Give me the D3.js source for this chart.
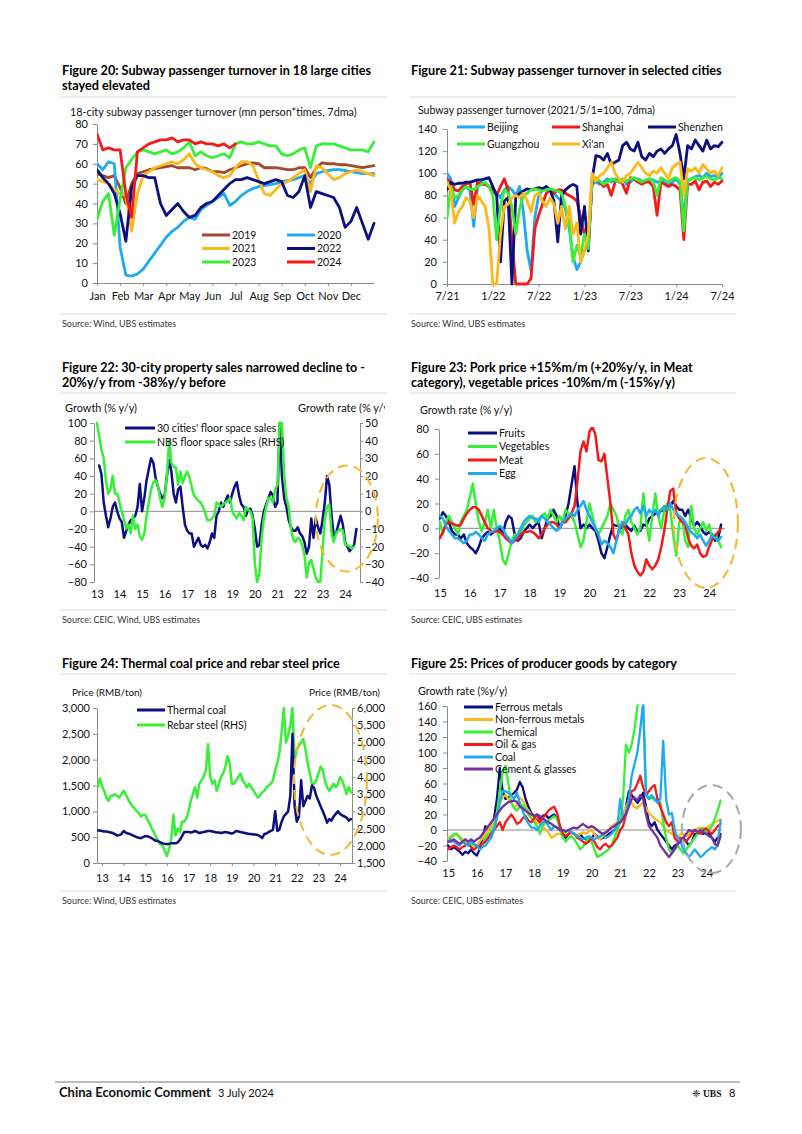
<!DOCTYPE html>
<html>
<head>
<meta charset="utf-8">
<script src="https://cdn.jsdelivr.net/npm/d3@7"></script>
<style>
  body { margin: 0; background: #fff; }
  svg text { font-family: Lato, "Noto Sans", sans-serif; fill: #111; }
  .title { font-size: 12.6px; font-weight: 700; fill: #000; }
  .sub { font-size: 10.4px; }
  .src { font-size: 8.9px; fill: #333; }
  .leg { font-size: 10.5px; }
  .axis text { font-size: 11px; font-family: Lato, "Noto Sans", sans-serif; fill: #111; }
  .axis path, .axis line { stroke: #8c8c8c; }
  .sep { stroke: #dcdcdc; stroke-width: 1; }
  .zero { stroke: #8c8c8c; stroke-width: 1; }
</style>
</head>
<body>
<svg id="page" width="802" height="1134"></svg>
<script>
// ---------- data ----------
// Figure 20: 18-city subway turnover, one value every quarter month (Jan = 0)
var monthLabels = ["Jan","Feb","Mar","Apr","May","Jun","Jul","Aug","Sep","Oct","Nov","Dec"];
var sub2019 = [55,54,53,54,48,40,50,55,56,57,57.5,58,58.5,59,58,58,58,57,58,57.5,56,56,55.5,57,58,59,60,60.5,60,58,58,58,57.5,57,57,58,58,53,58,60.5,60,60,59.5,59.5,59,58.5,58,58.5,59];
var sub2020 = [60,57,61,60,18,4,3.5,4.5,7,11,15,19,23,26,28,31,33,32,37,39,41,43,45,39,41,44,46,47.5,48.5,49,49.5,50,51,51.5,52,53,54,50,55,56,56.5,57,57,56.5,56,55.5,55,55,55];
var sub2021 = [52,51,50,47,45,44,26,45,54,56,58,59,60,61,60,62,65,60,58,57,56,54,53,54,58,61,61,59,52,45,44,47,50,51,53,55,57,46,59,58,55,52,53,55,56,57,56,55,54];
var sub2022 = [57,53,50,45,35,21,48,54,54,53,53,40,34,37,40,36,33,34,38,40,41,44,47,50,52,52,53,52,51,50,51,52,51,44,43,46,54,38,46,45,44,43,38,28,31,38,30,22,30];
var sub2023 = [32,41,45,24,42,58,62,66,67,66,65,66,67,65,66,68,71,64,66,64,63,64,65,63,70,71,70,70,71,70,69,69,65,64,65,67,68,58,69,70,70,70,69,68,67,67,67,66,71];
var sub2024 = [75,67,68,67,67,45,33,66,68,70,71,72,72,73,71,72,72,70,71,70,70,69,70,68,70];

// Figure 21: city subway index (2021/5/1=100), every half month from Jul 2021
var cityTicks = ["7/21","1/22","7/22","1/23","7/23","1/24","7/24"];
var beijing = [100,95,70,78,85,88,85,52,88,92,90,88, 85,82,78,85,88,85,80,88,65,30,12,60, 80,85,88,85,82,78,75,68,50,25,13,20,
  30,40,90,92,90,92,95,92,95,92,95,90, 92,95,95,93,92,95,94,92,93,92,90,92, 95,90,60,93,95,97,98,96,100,97,98,96, 100];
var shanghai = [95,92,85,84,88,90,92,72,92,90,90,88, 85,80,88,95,85,40,0,0,0,0,5,50, 62,72,82,85,82,85,85,82,80,78,75,60,
  45,35,95,95,92,88,90,80,92,95,90,82, 96,95,92,90,92,92,88,62,92,90,88,90, 88,85,40,90,90,93,85,92,93,88,92,90, 93];
var shenzhen = [85,92,90,91,91,92,92,93,94,94,95,96, 88,80,20,75,78,0,78,82,84,86,85,86, 87,86,88,85,75,38,80,85,88,90,88,45,
  70,30,95,116,115,112,118,108,110,112,125,128, 122,120,128,115,112,118,115,120,122,118,122,125, 135,118,95,125,122,130,125,120,130,122,125,124, 128];
var guangzhou = [60,88,78,80,85,88,86,85,88,90,92,88, 80,40,70,85,82,70,45,68,80,82,85,86, 85,84,85,86,85,84,82,70,55,20,35,25,
  45,32,95,96,93,90,92,95,94,92,95,93, 95,96,94,92,94,95,93,80,96,94,92,95, 96,93,48,94,95,96,94,96,97,95,94,96, 95];
var xian = [92,85,55,65,70,78,75,60,80,75,70,50, 0,0,45,70,72,78,80,78,82,75,65,80, 82,75,70,78,72,55,70,50,70,45,55,20,
  30,45,100,93,98,100,105,110,100,95,92,98, 100,105,110,105,100,98,102,100,105,100,95,105, 108,110,80,104,102,105,100,108,104,100,102,98, 105];

// Figure 22: property sales growth, every 0.1 year
var yearTicks13 = [13,14,15,16,17,18,19,20,21,22,23,24];
var cities30 = [52,42,10,-5,-18,-8,5,10,0,
  -8,-12,-30,-22,-15,-10,-8,-5,5,31,
  0,15,35,48,60,55,38,28,20,15,
  18,40,58,45,20,10,25,28,5,-15,
  -22,-25,-25,-40,-35,-30,-38,-40,-38,-42,
  -35,-25,-30,-5,0,10,5,12,18,10,
  20,28,33,18,8,5,-5,2,3,-5,
  -20,-40,-38,-15,0,8,15,22,18,5,
  10,100,40,15,5,-10,-18,-22,-22,-18,
  -25,-28,-35,-48,-40,-8,-30,-8,-18,-25,
  -10,10,40,30,-5,-28,-25,-15,-5,-15,
  -35,-40,-45,-42,-38,-20];            // from 2013.1
var nbsSales = [50,42.5,35,30,17.5,10,12.5,20,10,10,
  5,0,-5,-10,-7.5,-12.5,-2.5,-10,-7.5,-14,
  -16,-12.5,-2.5,5,12.5,16.5,17.5,15,7.5,2.5,
  7.5,20,40,27.5,25,25,15,22.5,16,20,
  22.5,19,14,9,7.5,6,5,2.5,-1,-5,
  -5,-4,-2.5,5,4,2.5,4,5,6,7.5,
  0,-2.5,-4,-1,-2.5,-5,2.5,1,0,-4,
  -30,-40,-35,-15,-4,2.5,7.5,7.5,5,12.5,
  15,50,50,20,7.5,2.5,-10,-16,-17.5,-15,
  -16,-19,-25,-37.5,-29,-27.5,-32.5,-37.5,-40,-40,
  -22.5,-4,2.5,4,-12.5,-17.5,-12.5,-11,-10,-11,
  -19,-19,-20,-21,-20];                 // from 2013.0, RHS

// Figure 23: food prices, every 0.1 year from 2015.0
var yearTicks15 = [15,16,17,18,19,20,21,22,23,24];
var fruits = [8,13,10,5,-2,-5,-5,-8,-5,-12, -15,-17,-20,-15,-8,-5,-3,-5,-3,-2, 0,-5,5,10,8,-5,-10,-8,-3,0,
  3,0,3,5,-8,0,8,10,15,10, 0,5,10,20,35,50,20,0,3,0, 3,0,-2,-10,-20,-24,-15,-5,3,2,
  2,0,3,0,-2,2,-3,-2,3,2, 8,10,12,12,15,14,15,18,22,18, 15,15,10,15,8,2,5,2,-3,-5, -3,-5,-10,-8,3];
var vegetables = [5,-5,5,10,5,0,-5,5,10,15, 25,36,20,5,-2,5,15,0,15,0, -10,-25,-29,-20,-10,-5,-8,-3,2,5,
  8,10,5,8,10,12,8,15,10,5, 10,5,15,12,10,5,-5,-15,-10,5, 20,10,0,-5,0,5,10,20,15,10,
  0,-5,10,15,5,0,-5,0,28,5, -10,10,28,10,0,15,20,15,-5,-22, 5,8,-10,-15,18,0,-5,0,5,-2, 3,-8,-5,-10,-15];
var meat = [-8,-3,3,5,4,3,2,3,8,12, 15,17,17,15,10,5,0,-2,-3,-2, -3,-5,-8,-10,-12,-10,-8,-5,-3,-3,
  -2,-3,-5,-8,-5,0,3,5,5,3, 0,5,5,8,12,18,38,62,70,62, 78,82,75,55,54,60,40,20,-5,-10,
  0,5,0,-5,-20,-30,-35,-38,-35,-25, -30,-33,-30,-25,-15,-2,15,30,32,12, 8,5,3,-8,-14,-16,-13,-20,-23,-22, -15,-9,-6,-3,0];
var egg = [10,8,2,-2,-5,-8,-8,-10,-12,-10, -5,-5,-3,-5,-8,-10,-5,-3,-2,0, 2,0,-5,-8,-12,-8,-5,0,5,8,
  10,8,8,5,10,8,5,3,0,-2, 0,5,8,10,12,10,15,18,22,15, 10,5,0,-5,-13,-10,-12,-15,-20,-10,
  0,5,3,8,10,15,17,12,18,10, 15,12,15,10,15,18,15,20,15,12, 10,8,5,0,-3,-5,-8,-5,-10,-14, -10,-5,-8,-10,-7];

// Figure 24: prices (RMB/ton), every 0.1 year from 2012.8
var thermalCoal = [630,630,
  620,610,610,600,590,580,560,530,540,560, 620,590,570,560,540,520,500,490,480,500,
  520,520,500,480,450,430,420,400,380,370, 370,370,380,380,380,400,450,520,600,600,
  600,590,600,620,600,580,590,600,610,620, 620,610,600,590,590,580,590,600,590,580,
  570,590,620,610,600,590,580,570,560,560, 550,550,540,520,480,560,570,600,620,640,
  1000,620,650,800,900,950,1000,1300,2500,1100, 800,900,1600,1100,1200,1300,1250,1500,1450,1300,
  1200,1100,1000,900,780,850,820,900,950,1000, 950,920,900,880,820,850];
var rebarSteel = [3700,3950,
  3750,3600,3400,3300,3450,3450,3500,3450,3400,3500, 3600,3500,3350,3250,3150,3100,3000,2950,2850,2900,
  2900,2750,2650,2500,2400,2250,2150,2050,2000,1850, 1700,1900,2200,2900,2300,2500,2400,2700,2700,2800,
  3000,3300,3500,3700,3400,3800,3900,4000,4200,4950, 4000,3800,3900,3600,3800,4000,4100,4300,4600,4400,
  3800,3800,3900,4000,4100,3900,3800,3700,3800,3700, 3600,3500,3400,3450,3550,3600,3700,3750,3800,3900,
  4200,4400,4700,5300,6000,5000,5200,5500,6000,4500, 4800,4900,5000,5100,4800,4400,4100,3800,3800,3900,
  4100,4300,4200,3900,3700,3600,3700,3800,3700,3800, 4000,3900,3700,3500,3700,3550];   // RHS

// Figure 25: producer goods prices, every 0.1 year from 2015.0
var ferrous = [-20,-25,-22,-25,-28,-32,-28,-30,-25,-30, -33,-25,-10,5,0,5,15,40,80,50, 40,42,45,48,52,62,55,40,30,22,
  18,10,15,18,20,15,18,20,15,5, -5,-10,-5,-3,-5,-8,-5,-10,-12,-15, -12,-5,-8,-12,-10,-8,-5,-3,0,5,
  10,15,30,50,45,40,35,40,48,30, 10,5,10,0,-5,-10,-15,-20,-25,-20, -18,-15,-10,-15,-20,-15,-5,-5,-3,-5, -3,-5,-10,-15,-10,-5];
var nonFerrous = [-10,-8,-8,-5,-8,-12,-15,-18,-20,-18, -20,-15,-10,-5,0,5,12,22,35,42, 45,40,35,30,32,42,38,30,25,20,
  15,10,8,5,0,-3,-10,-8,-5,-5, -5,-3,0,-2,-5,-8,-5,-3,-5,-2, 0,-5,-10,-12,-8,-5,0,5,8,10,
  15,20,30,38,35,30,28,32,35,28, 22,18,15,12,10,5,0,-3,-5,-8, -10,-5,-5,-8,-5,-3,0,2,3,0, 2,5,8,10,12,14];
var chemical = [-15,-10,-5,-5,-10,-15,-18,-20,-18,-20, -22,-20,-18,-10,-5,-2,5,20,50,75, 83,60,35,28,25,30,32,28,20,15,
  10,5,-5,5,10,12,15,18,15,0, -10,-15,-10,-8,-12,-18,-25,-22,-15,-10, -15,-25,-35,-33,-30,-28,-25,-20,-10,0,
  10,40,110,100,110,130,160,165,165,50, 40,42,38,40,35,10,-10,-25,-30,-25, -20,-25,-30,-25,-20,-15,-10,-5,0,3, -3,0,5,15,25,38];
var oilGas = [-25,-22,-20,-22,-25,-22,-20,-18,-22,-25, -22,-20,-18,-15,-10,-5,0,5,10,0, 10,15,20,15,8,10,15,18,12,10,
  15,20,10,15,20,25,28,30,22,5, -5,-8,-5,-3,-5,-10,-12,-15,-18,-15, -10,-15,-22,-25,-20,-18,-22,-20,-15,-10,
  0,5,20,35,50,52,60,70,55,45, 50,55,58,40,30,20,10,5,10,-10, -15,-10,-12,-15,-10,-5,0,-2,-5,0, 2,-2,-5,0,5,8];
var coalPpi = [-15,-12,-15,-18,-20,-15,-18,-20,-15,-18, -20,-25,-22,-20,-15,-10,0,15,35,50, 50,48,45,40,48,35,25,15,8,3,
  3,0,5,10,12,5,0,5,3,0, 0,-2,0,-3,-5,-8,-10,-12,-10,-8, -10,-12,-10,-8,-5,-10,-8,-5,0,5,
  40,15,20,40,70,85,100,130,165,45, 40,45,40,35,40,115,40,20,22,0, -10,-15,-25,-30,-35,-30,-25,-30,-35,-32, -28,-25,-22,-25,-20,12];
var cement = [-15,-15,-12,-15,-18,-15,-12,-15,-12,-15, -12,-10,-5,0,5,10,15,20,25,30, 33,36,37,38,36,30,28,25,22,20,
  18,20,18,15,12,10,8,5,3,0, 0,-2,0,2,3,2,5,8,5,3, 5,3,0,-3,-5,-3,0,3,5,8,
  10,15,20,30,40,42,38,45,40,20, 5,0,-5,-10,-20,-25,-30,-35,-30,-25, -18,-15,-10,-5,0,-2,0,-3,0,-3, -5,-8,-10,-18,-20,-8];

// dashed rings: [x from, x to, y top, y bottom] in data units
var ring22 = [2022.7, 2025.45, 52, -68];
var ring23 = [2022.82, 2024.96, 56.6, -48];
var ring24 = [2021.87, 2025.24, 3058, 155];
var ring25 = [2023.15, 2025.21, 58, -55.5];

// ---------- setup ----------
var navy = "#0b0f80", sky = "#1eaaf0", lime = "#38ef38", red = "#f41a1a",
    amber = "#ffb81c", brown = "#9e4b2e", purple = "#7232a2", ringAmber = "#f5b62a", ringGrey = "#a8a8a8";

var svg = d3.select("#page");
svg.append("rect").attr("width", 802).attr("height", 1134).attr("fill", "#fff");

var clipCount = 0;
function clip(x, y, w, h) {
  var id = "clip" + (clipCount++);
  svg.append("clipPath").attr("id", id)
    .append("rect").attr("x", x).attr("y", y).attr("width", w).attr("height", h);
  return "url(#" + id + ")";
}

// scale a text's font so it spans the width measured on the original page
function fitSize(sel, width) {
  var node = sel.node();
  var fs = parseFloat(getComputedStyle(node).fontSize);
  return fs * width / node.getComputedTextLength();
}
function fit(sel, width) {
  sel.style("font-size", fitSize(sel, width) + "px");
  return sel;
}

function seq(start, step, vals) {
  return vals.map(function(v, i) { return [start + i * step, v]; });
}

function header(x, lines, y, sepY, width) {
  var rows = lines.map(function(t, i) {
    return svg.append("text").attr("class", "title").attr("x", x).attr("y", y + i * 15).text(t);
  });
  var fs = fitSize(rows[0], width);
  rows.forEach(function(r) { r.style("font-size", fs + "px"); });
  svg.append("line").attr("class", "sep")
    .attr("x1", x - 2).attr("x2", x + 325).attr("y1", sepY).attr("y2", sepY);
}

function source(x, t, sepY, width) {
  svg.append("line").attr("class", "sep")
    .attr("x1", x - 2).attr("x2", x + 325).attr("y1", sepY).attr("y2", sepY);
  fit(svg.append("text").attr("class", "src").attr("x", x).attr("y", sepY + 13).text(t), width);
}

function subtitle(g, x, y, t, width) {
  return fit(g.append("text").attr("class", "sub").attr("x", x).attr("y", y).text(t), width);
}

function plotLine(g, data, xs, ys, color, w) {
  g.append("path").datum(data)
    .attr("fill", "none").attr("stroke", color).attr("stroke-width", w)
    .attr("stroke-linejoin", "round").attr("stroke-linecap", "round")
    .attr("d", d3.line().x(function(d) { return xs(d[0]); }).y(function(d) { return ys(d[1]); }));
}

function legendItem(g, label, color, x, y, len) {
  g.append("line").attr("x1", x).attr("x2", x + len).attr("y1", y).attr("y2", y)
    .attr("stroke", color).attr("stroke-width", 3);
  g.append("text").attr("class", "leg").attr("x", x + len + 2).attr("y", y).attr("dy", "0.35em").text(label);
}

function ring(g, r, xs, ys, color) {
  var x0 = xs(r[0]), x1 = xs(r[1]), y0 = ys(r[2]), y1 = ys(r[3]);
  g.append("ellipse")
    .attr("cx", (x0 + x1) / 2).attr("cy", (y0 + y1) / 2)
    .attr("rx", (x1 - x0) / 2).attr("ry", (y1 - y0) / 2)
    .attr("fill", "none").attr("stroke", color).attr("stroke-width", 2)
    .attr("stroke-dasharray", "10,6");
}

function noDomain(sel) { sel.select(".domain").remove(); }

// ---------- Figure 20 ----------
header(62, ["Figure 20: Subway passenger turnover in 18 large cities", "stayed elevated"], 75, 97, 309);
subtitle(svg, 70, 115.5, "18-city subway passenger turnover (mn person*times, 7dma)", 287);

var x20 = d3.scaleLinear().domain([0, 12]).range([97, 374]);
var y20 = d3.scaleLinear().domain([0, 80]).range([283, 124]);
var g20 = svg.append("g");
g20.append("g").attr("class", "axis").attr("transform", "translate(97,0)")
  .call(d3.axisLeft(y20).tickValues(d3.range(0, 81, 10)).tickSize(4).tickSizeOuter(0).tickPadding(5));
g20.append("g").attr("class", "axis").attr("transform", "translate(0,283)")
  .call(d3.axisBottom(x20).tickValues(d3.range(0, 12)).tickFormat(function(d) { return monthLabels[d]; })
    .tickSize(3).tickSizeOuter(0).tickPadding(6));

var l20 = g20.append("g").attr("clip-path", clip(97, 122, 280, 163));
plotLine(l20, seq(0, 0.25, sub2019), x20, y20, brown, 2.8);
plotLine(l20, seq(0, 0.25, sub2020), x20, y20, sky, 2.8);
plotLine(l20, seq(0, 0.25, sub2021), x20, y20, amber, 2.8);
plotLine(l20, seq(0, 0.25, sub2022), x20, y20, navy, 2.8);
plotLine(l20, seq(0, 0.25, sub2023), x20, y20, lime, 2.8);
plotLine(l20, seq(0, 0.25, sub2024), x20, y20, red, 2.8);

legendItem(g20, "2019", brown, 202, 235, 28);
legendItem(g20, "2020", sky, 287, 235, 28);
legendItem(g20, "2021", amber, 202, 248.5, 28);
legendItem(g20, "2022", navy, 287, 248.5, 28);
legendItem(g20, "2023", lime, 202, 262, 28);
legendItem(g20, "2024", red, 287, 262, 28);
source(62, "Source: Wind, UBS estimates", 314, 114);

// ---------- Figure 21 ----------
header(411, ["Figure 21: Subway passenger turnover in selected cities"], 75, 97, 311);
subtitle(svg, 418, 114, "Subway passenger turnover (2021/5/1=100, 7dma)", 237);

var x21 = d3.scaleLinear().domain([0, 36]).range([447, 722]);
var y21 = d3.scaleLinear().domain([0, 140]).range([284, 129]);
var g21 = svg.append("g");
g21.append("g").attr("class", "axis").attr("transform", "translate(447,0)")
  .call(d3.axisLeft(y21).tickValues(d3.range(0, 141, 20)).tickSize(4).tickSizeOuter(0).tickPadding(6));
g21.append("g").attr("class", "axis").attr("transform", "translate(0,284)")
  .call(d3.axisBottom(x21).tickValues(d3.range(0, 37, 6)).tickFormat(function(d, i) { return cityTicks[i]; })
    .tickSize(3).tickSizeOuter(0).tickPadding(5));

var l21 = g21.append("g").attr("clip-path", clip(447, 127, 280, 159));
plotLine(l21, seq(0, 0.5, beijing), x21, y21, sky, 2.8);
plotLine(l21, seq(0, 0.5, shanghai), x21, y21, red, 2.8);
plotLine(l21, seq(0, 0.5, shenzhen), x21, y21, navy, 2.8);
plotLine(l21, seq(0, 0.5, guangzhou), x21, y21, lime, 2.8);
plotLine(l21, seq(0, 0.5, xian), x21, y21, amber, 2.8);

legendItem(g21, "Beijing", sky, 457, 127, 28);
legendItem(g21, "Shanghai", red, 552, 127, 28);
legendItem(g21, "Shenzhen", navy, 648, 127, 28);
legendItem(g21, "Guangzhou", lime, 457, 144, 28);
legendItem(g21, "Xi'an", amber, 552, 144, 28);
source(411, "Source: Wind, UBS estimates", 314, 114);

// ---------- Figure 22 ----------
header(62, ["Figure 22: 30-city property sales narrowed decline to -", "20%y/y from -38%y/y before"], 372, 393, 303);

var x22 = d3.scaleLinear().domain([2012.87, 2024.66]).range([94, 360]);
var y22 = d3.scaleLinear().domain([-80, 100]).range([582, 423]);
var y22r = d3.scaleLinear().domain([-40, 50]).range([582, 423]);
var g22 = svg.append("g").attr("clip-path", clip(0, 390, 385, 240));
var s22 = subtitle(g22, 65, 412, "Growth (% y/y)", 72);
g22.append("text").attr("class", "sub").attr("x", 298).attr("y", 412)
  .style("font-size", s22.style("font-size")).text("Growth rate (% y/y)");
g22.append("g").attr("class", "axis").attr("transform", "translate(94,0)")
  .call(d3.axisLeft(y22).tickValues(d3.range(-80, 101, 20)).tickSize(4).tickSizeOuter(0).tickPadding(3));
g22.append("g").attr("class", "axis").attr("transform", "translate(360,0)")
  .call(d3.axisRight(y22r).tickValues(d3.range(-40, 51, 10)).tickSize(3).tickSizeOuter(0).tickPadding(2));
g22.append("g").attr("class", "axis").attr("transform", "translate(0,582)")
  .call(d3.axisBottom(x22).tickValues(yearTicks13.map(function(d) { return 2000 + d; }))
    .tickFormat(function(d) { return d - 2000; }).tickSize(0).tickPadding(8.5))
  .call(noDomain);
g22.append("line").attr("class", "zero").attr("x1", 94).attr("x2", 360).attr("y1", y22(0)).attr("y2", y22(0));

var l22 = g22.append("g").attr("clip-path", clip(94, 421, 266, 163));
plotLine(l22, seq(2013.1, 0.1, cities30), x22, y22, navy, 2.5);
plotLine(l22, seq(2013.0, 0.1, nbsSales), x22, y22r, lime, 2.5);
legendItem(g22, "30 cities' floor space sales", navy, 125, 428, 30);
legendItem(g22, "NBS floor space sales (RHS)", lime, 125, 442, 30);
ring(g22, ring22, x22, y22, ringAmber);
source(62, "Source: CEIC, Wind, UBS estimates", 610, 138);

// ---------- Figure 23 ----------
header(411, ["Figure 23: Pork price +15%m/m (+20%y/y, in Meat", "category), vegetable prices -10%m/m (-15%y/y)"], 372, 393, 282);
subtitle(svg, 420, 414, "Growth rate (% y/y)", 92);

var x23 = d3.scaleLinear().domain([2014.97, 2024.53]).range([439, 725]);
var y23 = d3.scaleLinear().domain([-40, 80]).range([578, 429]);
var g23 = svg.append("g");
g23.append("g").attr("class", "axis").attr("transform", "translate(439,0)")
  .call(d3.axisLeft(y23).tickValues(d3.range(-40, 81, 20)).tickSize(4).tickSizeOuter(0).tickPadding(6));
g23.append("g").attr("class", "axis").attr("transform", "translate(0,578)")
  .call(d3.axisBottom(x23).tickValues(yearTicks15.map(function(d) { return 2000 + d; }))
    .tickFormat(function(d) { return d - 2000; }).tickSize(0).tickPadding(11.5))
  .call(noDomain);
g23.append("line").attr("class", "zero").attr("x1", 439).attr("x2", 725).attr("y1", y23(0)).attr("y2", y23(0));

var l23 = g23.append("g").attr("clip-path", clip(439, 427, 290, 153));
plotLine(l23, seq(2015, 0.1, fruits), x23, y23, navy, 2.5);
plotLine(l23, seq(2015, 0.1, vegetables), x23, y23, lime, 2.5);
plotLine(l23, seq(2015, 0.1, meat), x23, y23, red, 2.5);
plotLine(l23, seq(2015, 0.1, egg), x23, y23, sky, 2.5);
legendItem(g23, "Fruits", navy, 468, 433, 29);
legendItem(g23, "Vegetables", lime, 468, 446.5, 29);
legendItem(g23, "Meat", red, 468, 460, 29);
legendItem(g23, "Egg", sky, 468, 473.5, 29);
ring(g23, ring23, x23, y23, ringAmber);
source(411, "Source: CEIC, UBS estimates", 610, 111);

// ---------- Figure 24 ----------
header(62, ["Figure 24: Thermal coal price and rebar steel price"], 668, 674, 278);

var x24 = d3.scaleLinear().domain([2012.77, 2024.55]).range([97, 352]);
var y24 = d3.scaleLinear().domain([0, 3000]).range([863, 708]);
var y24r = d3.scaleLinear().domain([1500, 6000]).range([863, 708]);
var g24 = svg.append("g").attr("clip-path", clip(0, 672, 385, 240));
subtitle(g24, 72, 696, "Price (RMB/ton)", 70);
subtitle(g24, 309, 696, "Price (RMB/ton)", 71);
g24.append("g").attr("class", "axis").attr("transform", "translate(97,0)")
  .call(d3.axisLeft(y24).tickValues(d3.range(0, 3001, 500)).tickFormat(d3.format(",")).tickSize(4).tickSizeOuter(0).tickPadding(3));
g24.append("g").attr("class", "axis").attr("transform", "translate(352,0)")
  .call(d3.axisRight(y24r).tickValues(d3.range(1500, 6001, 500)).tickFormat(d3.format(",")).tickSize(3).tickSizeOuter(0).tickPadding(2));
g24.append("g").attr("class", "axis").attr("transform", "translate(0,863)")
  .call(d3.axisBottom(x24).tickValues(yearTicks13.map(function(d) { return 2000 + d; }))
    .tickFormat(function(d) { return d - 2000; }).tickSize(3).tickSizeOuter(0).tickPadding(8));

var l24 = g24.append("g").attr("clip-path", clip(97, 706, 256, 159));
plotLine(l24, seq(2012.8, 0.1, rebarSteel), x24, y24r, lime, 2.5);
plotLine(l24, seq(2012.8, 0.1, thermalCoal), x24, y24, navy, 2.5);
legendItem(g24, "Thermal coal", navy, 137, 710, 28);
legendItem(g24, "Rebar steel (RHS)", lime, 137, 725, 28);
ring(g24, ring24, x24, y24, ringAmber);
source(62, "Source: Wind, UBS estimates", 891, 114);

// ---------- Figure 25 ----------
header(411, ["Figure 25: Prices of producer goods by category"], 668, 674, 266);
subtitle(svg, 418, 695, "Growth rate (%y/y)", 89);

var x25 = d3.scaleLinear().domain([2014.96, 2024.55]).range([447, 722]);
var y25 = d3.scaleLinear().domain([-40, 160]).range([861, 706]);
var g25 = svg.append("g");
g25.append("g").attr("class", "axis").attr("transform", "translate(447,0)")
  .call(d3.axisLeft(y25).tickValues(d3.range(-40, 161, 20)).tickSize(4).tickSizeOuter(0).tickPadding(6));
g25.append("g").attr("class", "axis").attr("transform", "translate(0,861)")
  .call(d3.axisBottom(x25).tickValues(yearTicks15.map(function(d) { return 2000 + d; }))
    .tickFormat(function(d) { return d - 2000; }).tickSize(0).tickPadding(8.5))
  .call(noDomain);
g25.append("line").attr("class", "zero").attr("x1", 447).attr("x2", 722).attr("y1", y25(0)).attr("y2", y25(0));

var l25 = g25.append("g").attr("clip-path", clip(447, 704.5, 280, 158));
plotLine(l25, seq(2015, 0.1, ferrous), x25, y25, navy, 2.3);
plotLine(l25, seq(2015, 0.1, nonFerrous), x25, y25, amber, 2.3);
plotLine(l25, seq(2015, 0.1, chemical), x25, y25, lime, 2.3);
plotLine(l25, seq(2015, 0.1, oilGas), x25, y25, red, 2.3);
plotLine(l25, seq(2015, 0.1, coalPpi), x25, y25, sky, 2.3);
plotLine(l25, seq(2015, 0.1, cement), x25, y25, purple, 2.3);
legendItem(g25, "Ferrous metals", navy, 464, 707, 29);
legendItem(g25, "Non-ferrous metals", amber, 464, 719.5, 29);
legendItem(g25, "Chemical", lime, 464, 732, 29);
legendItem(g25, "Oil & gas", red, 464, 744.5, 29);
legendItem(g25, "Coal", sky, 464, 757, 29);
legendItem(g25, "Cement & glasses", purple, 464, 769, 29);
ring(g25, ring25, x25, y25, ringGrey);
source(411, "Source: CEIC, UBS estimates", 891, 112);

// ---------- page footer ----------
svg.append("line").attr("x1", 55).attr("x2", 740).attr("y1", 1082).attr("y2", 1082)
  .attr("stroke", "#555").attr("stroke-width", 0.8);
fit(svg.append("text").attr("x", 59).attr("y", 1097).attr("font-size", "12.9px").attr("font-weight", 700)
  .text("China Economic Comment"), 152);
fit(svg.append("text").attr("x", 218).attr("y", 1097).attr("font-size", "11px").text("3 July 2024"), 56);
svg.append("text").attr("x", 692).attr("y", 1097).attr("font-size", "10px")
  .style("font-family", "'DejaVu Sans'").text("\u2748");
svg.append("text").attr("x", 703).attr("y", 1097).attr("font-size", "9.5px").attr("font-weight", 700)
  .style("font-family", "'Liberation Serif', serif").text("UBS");
svg.append("text").attr("x", 729).attr("y", 1097).attr("font-size", "11px").text("8");
</script>
</body>
</html>
